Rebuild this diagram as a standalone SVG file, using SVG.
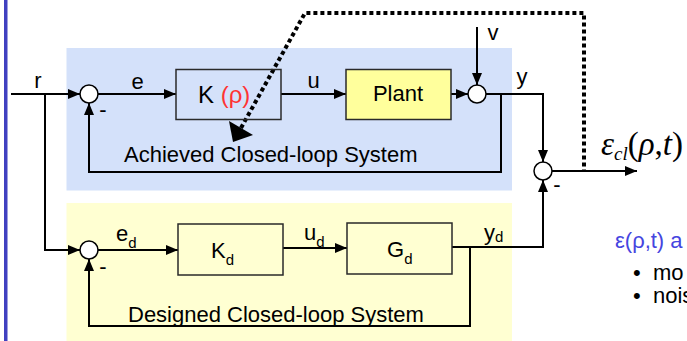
<svg xmlns="http://www.w3.org/2000/svg" width="687" height="341" viewBox="0 0 687 341">
<defs>
<style>
.t{font-family:"Liberation Sans",Arial,sans-serif;font-size:22px;fill:#000}
.sub{font-size:15px}
.ln{fill:none;stroke:#000;stroke-width:2}
.box{stroke:#2a2a2a;stroke-width:1.5}
.sum{fill:#fff;stroke:#000;stroke-width:1.5}
.dot{fill:none;stroke:#000;stroke-width:4;stroke-dasharray:4 3}
.serif{font-family:"Liberation Serif","Times New Roman",serif;font-size:33px}
</style>
<marker id="ar" viewBox="0 0 12 10" refX="12" refY="5" markerWidth="12" markerHeight="10" markerUnits="userSpaceOnUse" orient="auto">
<path d="M0,0 L12,5 L0,10 z" fill="#000"/>
</marker>
</defs>
<rect x="4" y="0" width="3.5" height="341" fill="#4040c0"/>
<rect id="achievedBg" x="66.5" y="48" width="445.5" height="142.5" fill="#d4e1fa"/>
<rect id="designedBg" x="66.5" y="203" width="445.5" height="138" fill="#ffffd2"/>

<g id="connectors">
<path class="ln" d="M11,94 H80" marker-end="url(#ar)"/>
<path class="ln" d="M45,94 V250 H80" marker-end="url(#ar)"/>
<path class="ln" d="M98,94 H176" marker-end="url(#ar)"/>
<path class="ln" d="M281,94 H346" marker-end="url(#ar)"/>
<path class="ln" d="M451,94 H468" marker-end="url(#ar)"/>
<path class="ln" d="M477,27 V85" marker-end="url(#ar)"/>
<path class="ln" d="M486,94 H543 V162" marker-end="url(#ar)"/>
<path class="ln" d="M501,94 V172 H89 V103" marker-end="url(#ar)"/>
<path class="ln" d="M552,171 H637" marker-end="url(#ar)"/>
<path class="ln" d="M98,250 H178" marker-end="url(#ar)"/>
<path class="ln" d="M283,248 H347" marker-end="url(#ar)"/>
<path class="ln" d="M452,247 H543 V180" marker-end="url(#ar)"/>
<path class="ln" d="M470,247 V326 H89 V259" marker-end="url(#ar)"/>
<path class="dot" d="M241,128 L305,13 H584 V170"/>
<polygon points="229,121 253,135 233,142" fill="#000"/>
</g>

<g id="sum1"><circle class="sum" cx="89" cy="94" r="9"/><text class="t" x="103" y="117" text-anchor="middle">-</text></g>
<g id="sum2"><circle class="sum" cx="477" cy="94" r="9"/></g>
<g id="sum3"><circle class="sum" cx="543" cy="171" r="9"/><text class="t" x="557" y="192" text-anchor="middle">-</text></g>
<g id="sum4"><circle class="sum" cx="89" cy="250" r="9"/><text class="t" x="103" y="274" text-anchor="middle">-</text></g>

<g id="K"><rect class="box" x="176" y="69.5" width="105" height="50" fill="none"/>
<text class="t" x="198" y="103" style="font-size:24px">K <tspan fill="#ff3333">(ρ)</tspan></text></g>
<g id="Plant"><rect class="box" x="346" y="69.5" width="105" height="50" fill="#ffff9c"/>
<text class="t" x="398" y="101" text-anchor="middle">Plant</text></g>
<g id="Kd"><rect class="box" x="178" y="224" width="105" height="51" fill="none"/>
<text class="t" x="211" y="258">K<tspan class="sub" dy="7">d</tspan></text></g>
<g id="Gd"><rect class="box" x="347" y="223" width="105" height="51" fill="none"/>
<text class="t" x="387" y="257">G<tspan class="sub" dy="7">d</tspan></text></g>

<g id="labels">
<text class="t" x="38" y="88" text-anchor="middle">r</text>
<text class="t" x="137.5" y="89" text-anchor="middle">e</text>
<text class="t" x="313.5" y="88" text-anchor="middle">u</text>
<text class="t" x="493" y="40" text-anchor="middle">v</text>
<text class="t" x="522" y="84" text-anchor="middle">y</text>
<text class="t" x="116" y="241">e<tspan class="sub" dy="7">d</tspan></text>
<text class="t" x="304" y="240">u<tspan class="sub" dy="7">d</tspan></text>
<text class="t" x="484" y="240">y<tspan class="sub" dy="2">d</tspan></text>
<text class="t" x="124" y="162">Achieved Closed-loop System</text>
<text class="t" x="128" y="322">Designed Closed-loop System</text>
<text class="serif" x="601" y="155"><tspan font-style="italic">ε</tspan><tspan font-style="italic" font-size="19" dy="5">cl</tspan><tspan dy="-5">(</tspan><tspan font-style="italic">ρ</tspan>,<tspan font-style="italic">t</tspan>)</text>
<text class="t" x="615" y="248" style="fill:#4545e0">ε(ρ,t) a</text>
<text class="t" x="633" y="280">•</text>
<text class="t" x="653" y="280">mo</text>
<text class="t" x="633" y="303">•</text>
<text class="t" x="653" y="303">nois</text>
</g>
</svg>
